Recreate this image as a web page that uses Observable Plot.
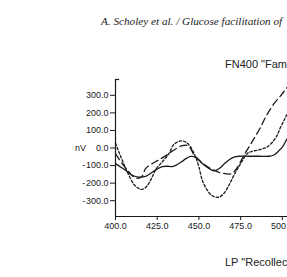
<!DOCTYPE html>
<html>
<head>
<meta charset="utf-8">
<script src="https://cdn.jsdelivr.net/npm/d3@7"></script>
<script src="https://cdn.jsdelivr.net/npm/@observablehq/plot@0.6"></script>
<style>
  html, body { margin: 0; padding: 0; background: #fff; overflow: hidden; }
  #page { position: relative; width: 287px; height: 277px; overflow: hidden; background: #fff; }
  #chart { position: absolute; left: 0; top: 0; }
  .running-head { position: absolute; left: 101px; top: 16px; white-space: nowrap;
    font: italic 11.2px/11.2px "Liberation Serif", "DejaVu Serif", serif; color: #222; }
  .panel-title { position: absolute; left: 225px; white-space: nowrap;
    font: 11px/11px "Liberation Sans", Arial, sans-serif; color: #222; }
</style>
</head>
<body>
<div id="page">
  <div id="chart"></div>
  <div class="running-head">A. Scholey et al. / Glucose facilitation of</div>
  <div class="panel-title" style="top:59px">FN400 "Familiarity"</div>
  <div class="panel-title" style="top:257px">LP "Recollection"</div>
</div>
<script>
// Grand-average ERP waveforms (nV) over latency (ms), three conditions
const latencySolid = [400, 403, 406, 410, 414, 418, 422, 425, 428, 431, 434, 437, 440, 442, 445, 448, 452, 456, 459, 462, 465, 468, 471, 474, 480, 486, 492, 495, 498, 500, 502, 504, 506];
const nvSolid      = [-89, -108, -127, -155, -166, -162, -138, -120, -106, -104, -106, -94, -76, -62, -48, -53, -88, -116, -130, -118, -92, -68, -52, -47, -47, -47, -47, -40, -15, 5, 38, 70, 100];

const latencyDashed = [400, 404, 408, 411, 414, 416, 418, 421, 424, 427, 430, 434, 437, 440, 443, 445, 447, 449, 452, 455, 458, 461, 465, 469, 472, 474, 477, 480, 483, 487, 490, 495, 500, 503, 506];
const nvDashed      = [-32, -89, -136, -165, -172, -160, -118, -95, -78, -62, -45, -18, 0, 13, 14, -3, -40, -58, -86, -106, -122, -135, -145, -147, -125, -95, -41, 6, 53, 119, 176, 252, 309, 347, 380];

const latencyDotted = [400, 402, 404.5, 407.5, 411.5, 415.5, 418.5, 421.5, 424.5, 428.5, 432, 435, 439, 442, 445, 448, 450, 452, 455, 458, 462, 465, 468, 471, 475, 479, 482, 485, 488, 491, 495, 497, 499, 501, 503, 506];
const nvDotted      = [28, -22, -80, -145, -212, -236, -221, -174, -117, -74, -32, 20, 40, 34, 6, -51, -108, -183, -240, -272, -280, -258, -212, -155, -89, -32, -18, -13, -5, 6, 44, 75, 119, 157, 195, 250];

const xTicks = [400, 425, 450, 475, 500];
const yTicks = [-300, -200, -100, 0, 100, 200, 300];
const xDomain = [400, 600.2];
const yDomain = [-390, 390];
const unitLabel = ["nV"];

const ink = "#1a1a1a";
const rows = (ts, vs) => ts.map((t, i) => ({t, v: vs[i]}));

const fmtX = d => d.toFixed(1);
const fmtY = d => d < 0 ? "-\u200A" + Math.abs(d).toFixed(1) : d.toFixed(1);

const chart = Plot.plot({
  width: 449,
  height: 246,
  marginLeft: 115,
  marginRight: 0,
  marginTop: 79,
  marginBottom: 30,
  style: {maxWidth: "none", overflow: "visible", color: ink, background: "transparent",
          fontFamily: "'Liberation Sans', Arial, sans-serif"},
  x: {domain: xDomain, axis: null},
  y: {domain: yDomain, axis: null},
  marks: [
    Plot.axisX(xTicks, {tickSize: 4, tickPadding: 2, tickFormat: fmtX, fontSize: 9, label: null}),
    Plot.axisY(yTicks, {tickSize: 5, tickPadding: 2, tickFormat: fmtY, fontSize: 9, label: null}),
    Plot.ruleX([xDomain[0]], {stroke: ink, strokeWidth: 1.2}),
    Plot.ruleY([yDomain[0]], {stroke: ink, strokeWidth: 1.2}),
    Plot.ruleY([yDomain[1]], {x1: xDomain[0], x2: 402.5, stroke: ink, strokeWidth: 1.2}),
    Plot.text(unitLabel, {x: xDomain[0], y: 0, dx: -35, fontSize: 9, fill: ink, textAnchor: "middle"}),
    Plot.line(rows(latencySolid, nvSolid), {x: "t", y: "v", curve: "catmull-rom", stroke: ink, strokeWidth: 1.3}),
    Plot.line(rows(latencyDashed, nvDashed), {x: "t", y: "v", curve: "catmull-rom", stroke: ink, strokeWidth: 1.3, strokeDasharray: "7,4"}),
    Plot.line(rows(latencyDotted, nvDotted), {x: "t", y: "v", curve: "catmull-rom", stroke: ink, strokeWidth: 1.3, strokeDasharray: "2.5,2"})
  ]
});
document.getElementById("chart").appendChild(chart);
</script>
</body>
</html>
